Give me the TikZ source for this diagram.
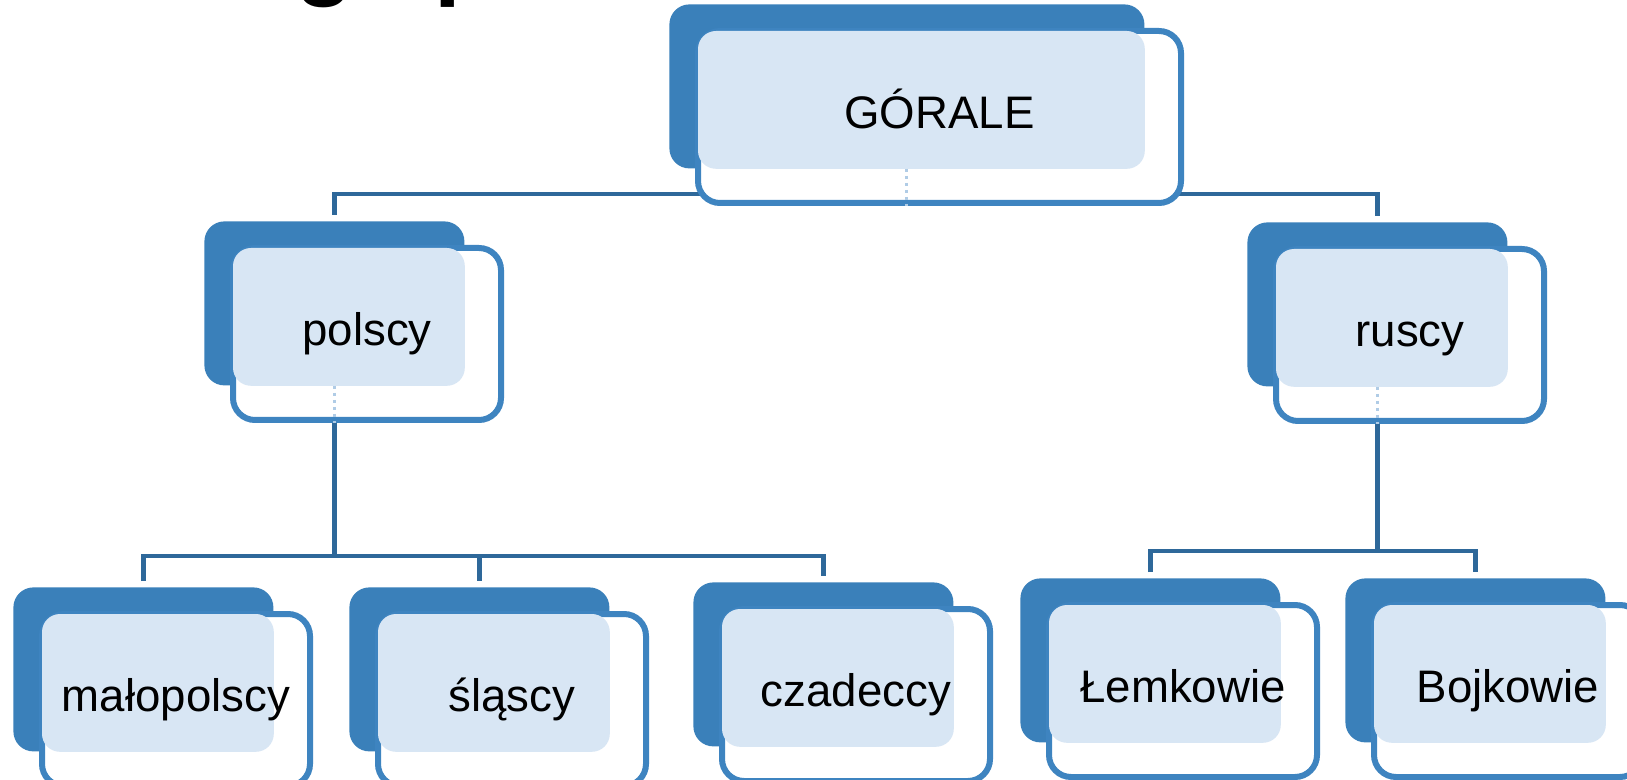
\documentclass[tikz,border=0pt]{standalone}
\usepackage{fontspec}
\setmainfont{Liberation Sans}
\usetikzlibrary{calc, positioning}
\definecolor{niebieski}{RGB}{58,128,186}
\definecolor{ramka}{RGB}{62,132,192}
\definecolor{linia}{RGB}{46,104,154}
\definecolor{kropki}{RGB}{216,230,244}
\pgfdeclarelayer{spod}
\pgfsetlayers{spod,main}
% karta: nazwa, x, y, szerokosc, wysokosc, tekst
\newcommand{\karta}[6]{
  \node[tlo, minimum width = {#4*0.5pt}, minimum height = {#5*0.5pt}] (#1-t) at (#2,#3) {};
  \node[przod, minimum width = {#4*0.5pt+4pt}, minimum height = {#5*0.5pt+4pt}] (#1-r) at ($(#1-t.north west)+(26,24)$) {};
  \fill[wzor] ($(#1-r.north west)+(3,3)$) rectangle (#1-t.south east);
  \node[napis] (#1) at (#1-r.center) {#6};
}

\begin{document}
\begin{tikzpicture}[x = 0.5pt, y = -0.5pt,
    tlo/.style = {anchor = north west, fill = niebieski, rounded corners = 10pt, inner sep = 0pt},
    przod/.style = {anchor = north west, draw = ramka, line width = 3pt, fill = white, rounded corners = 11pt, inner sep = 0pt},
    wzor/.style = {fill = kropki, rounded corners = 9pt},
    napis/.style = {font = \fontsize{22.8}{27}\selectfont, text height = 1.12em, text depth = 0em, inner sep = 0pt},
    lacze/.style = {draw = linia, line width = 2.2pt},
    slad/.style = {draw = kropki!75!niebieski, dotted, line width = 1.5pt},
    tytul/.style = {font = \bfseries\fontsize{48}{58}\selectfont, anchor = base west, inner sep = 0pt}]
    % Parametry
    \pgfmathsetmacro{\w}{260}
    \pgfmathsetmacro{\h}{164}
    \useasboundingbox (0,0) rectangle (1627,780);
    \begin{pgfonlayer}{spod}
        \fill[white] (0,0) rectangle (1627,780);
    \end{pgfonlayer}
    \clip (0,0) rectangle (1627,780);
    % Tytul (uciety)
    \node[tytul] (tyt-g) at (295,-12) {g};
    \node[tytul] (tyt-p) at (434,-12) {p};
    % Karty
    \karta{gorale}{669}{4}{475}{\h}{GÓRALE}
    \karta{polscy}{204}{221}{\w}{\h}{polscy}
    \karta{ruscy}{1247}{222}{\w}{\h}{ruscy}
    \karta{malo}{13}{587}{\w}{\h}{małopolscy}
    \karta{slas}{349}{587}{\w}{\h}{śląscy}
    \karta{czad}{693}{582}{\w}{\h}{czadeccy}
    \karta{lemk}{1020}{578}{\w}{\h}{Łemkowie}
    \karta{bojk}{1345}{578}{\w}{\h}{Bojkowie}
    % Slady linii pod kartami
    \draw[slad] (gorale-t.south) -- (gorale-t.south |- gorale-r.south);
    \draw[slad] (polscy-t.south) -- (polscy-t.south |- polscy-r.south);
    \draw[slad] (ruscy-t.south) -- (ruscy-t.south |- ruscy-r.south);
    % Polaczenia
    \begin{pgfonlayer}{spod}
        \coordinate (g1) at ($(gorale-t.south)+(0,25)$);
        \draw[lacze] (gorale-t.south) -- (g1);
        \draw[lacze, shorten <= 3pt, shorten >= 3pt] (polscy-t.north) |- (g1) -| (ruscy-t.north);
        \coordinate (p1) at ($(polscy-t.south)+(0,170)$);
        \draw[lacze] (polscy-t.south) -- (p1);
        \draw[lacze, shorten <= 3pt, shorten >= 3pt] (malo-t.north) |- (p1) -| (czad-t.north);
        \draw[lacze, shorten >= 3pt] (p1) -| (slas-t.north);
        \coordinate (r1) at ($(ruscy-t.south)+(0,164)$);
        \draw[lacze] (ruscy-t.south) -- (r1);
        \draw[lacze, shorten <= 3pt, shorten >= 3pt] (lemk-t.north) |- (r1) -| (bojk-t.north);
    \end{pgfonlayer}
\end{tikzpicture}
\end{document}
